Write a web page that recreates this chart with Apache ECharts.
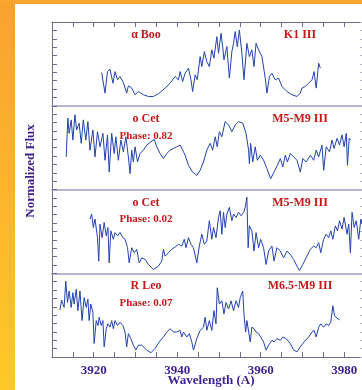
<!DOCTYPE html>
<html lang="en">
<head>
    <meta charset="UTF-8">
    <title>Stellar Spectra</title>
    <script src="https://cdn.jsdelivr.net/npm/echarts@6/dist/echarts.min.js"></script>
    <style>
        html, body {margin: 0; padding: 0; overflow: hidden; background: #fff;}
    </style>
</head>
<body>
<div id="chart" style="width: 362px; height: 390px;"></div>

<script>
    // wavelengths (A) and normalized flux (0-10 per panel)
    var booWave = [3921.9, 3922.7, 3923.3, 3923.9, 3924.6, 3925.1, 3925.7, 3926.3, 3927.1, 3927.9, 3928.3, 3929.1, 3929.9, 3930.7, 3931.9, 3933.1, 3934.3, 3935.5, 3937.1, 3938.3, 3939.5, 3940.3, 3940.7, 3941.3, 3941.9, 3942.7, 3943.3, 3943.7, 3944.3, 3944.8, 3945.5, 3945.9, 3946.5, 3947.1, 3947.7, 3948.3, 3948.8, 3949.5, 3949.9, 3950.5, 3950.9, 3951.2, 3951.9, 3952.5, 3953.1, 3953.5, 3953.9, 3954.4, 3954.9, 3955.5, 3956.0, 3956.7, 3957.3, 3957.9, 3958.4, 3958.9, 3959.5, 3960.3, 3961.1, 3961.5, 3962.1, 3962.7, 3963.5, 3964.3, 3965.1, 3966.3, 3967.5, 3968.7, 3969.5, 3969.9, 3970.7, 3971.5, 3972.3, 3972.8, 3973.3, 3973.9, 3974.3];
    var booFlux = [3.96, 1.51, 4.08, 4.37, 2.70, 4.08, 3.10, 3.49, 2.77, 1.51, 2.38, 2.11, 1.31, 1.70, 1.31, 1.11, 1.11, 1.43, 2.11, 2.70, 3.49, 3.10, 4.08, 2.89, 3.89, 4.49, 3.10, 1.70, 3.69, 3.10, 5.87, 4.68, 6.46, 5.27, 4.68, 6.67, 5.68, 8.25, 6.27, 8.65, 7.06, 5.48, 7.06, 3.30, 6.46, 7.46, 8.85, 7.06, 9.05, 6.27, 3.10, 7.46, 5.87, 6.67, 4.68, 7.46, 6.67, 5.87, 3.30, 1.51, 3.49, 3.89, 3.10, 3.30, 2.30, 1.70, 1.31, 1.11, 1.51, 2.11, 2.30, 2.70, 3.10, 4.08, 2.11, 5.08, 4.49];

    var cet82Wave = [3913.4, 3913.8, 3914.1, 3914.6, 3915.0, 3915.5, 3915.9, 3916.5, 3917.0, 3917.5, 3918.1, 3918.6, 3919.1, 3919.8, 3920.3, 3920.9, 3921.5, 3922.2, 3922.7, 3923.3, 3923.7, 3924.3, 3924.9, 3925.3, 3925.9, 3926.5, 3927.1, 3927.7, 3928.3, 3928.7, 3929.1, 3929.5, 3929.9, 3930.5, 3931.1, 3931.9, 3932.7, 3933.7, 3934.5, 3935.1, 3935.9, 3936.7, 3937.5, 3938.3, 3939.1, 3939.9, 3940.7, 3941.3, 3941.9, 3942.7, 3943.7, 3944.7, 3945.5, 3946.3, 3947.1, 3947.9, 3948.5, 3949.1, 3949.6, 3950.1, 3950.7, 3951.5, 3952.3, 3953.1, 3953.9, 3954.7, 3955.7, 3956.5, 3957.1, 3957.3, 3957.6, 3958.1, 3958.7, 3959.2, 3959.9, 3960.7, 3961.5, 3962.4, 3963.2, 3964.0, 3964.7, 3965.3, 3965.9, 3966.4, 3967.1, 3967.9, 3968.7, 3969.5, 3970.1, 3970.9, 3971.9, 3972.7, 3973.3, 3973.9, 3974.7, 3975.1, 3975.7, 3976.5, 3977.1, 3977.6, 3978.3, 3978.9, 3979.5, 3980.0, 3980.5, 3980.8, 3981.2, 3981.6];
    var cet82Flux = [3.89, 8.52, 6.71, 8.31, 5.90, 8.92, 7.11, 7.92, 5.51, 8.31, 5.90, 8.11, 4.70, 7.11, 3.89, 6.90, 5.10, 6.71, 3.49, 6.51, 2.08, 6.71, 4.30, 6.30, 3.49, 5.90, 4.49, 6.30, 3.89, 1.89, 4.70, 3.29, 5.10, 3.29, 4.30, 4.70, 5.30, 5.70, 5.99, 5.10, 4.30, 3.70, 4.30, 4.70, 4.90, 5.10, 5.30, 4.70, 4.10, 2.89, 2.08, 1.69, 2.29, 3.29, 4.70, 5.51, 4.70, 6.30, 5.10, 6.90, 6.30, 8.11, 7.71, 6.90, 7.71, 8.11, 7.92, 6.71, 4.70, 3.10, 5.51, 3.29, 5.10, 3.49, 4.10, 3.49, 2.49, 1.29, 2.08, 2.89, 3.70, 2.69, 4.10, 3.29, 4.30, 3.89, 3.49, 2.08, 3.70, 3.29, 4.10, 3.49, 4.70, 3.89, 5.30, 2.29, 5.10, 4.49, 5.90, 4.90, 6.11, 5.30, 6.51, 5.10, 6.71, 2.89, 6.11, 5.90];

    var cet02Wave = [3919.1, 3919.5, 3919.9, 3920.3, 3920.9, 3921.2, 3921.5, 3922.0, 3922.5, 3923.0, 3923.4, 3923.7, 3924.1, 3924.7, 3925.1, 3925.7, 3926.3, 3927.0, 3927.5, 3928.1, 3928.5, 3929.1, 3929.7, 3930.3, 3930.9, 3931.5, 3932.3, 3933.1, 3934.3, 3935.5, 3936.3, 3936.7, 3937.1, 3937.9, 3938.7, 3939.5, 3940.3, 3941.1, 3941.7, 3942.1, 3942.7, 3943.3, 3943.9, 3944.7, 3945.3, 3945.9, 3946.5, 3947.1, 3947.7, 3948.3, 3948.7, 3949.3, 3949.9, 3950.3, 3950.7, 3951.1, 3951.5, 3951.9, 3952.5, 3953.1, 3953.5, 3954.1, 3954.7, 3955.3, 3955.9, 3956.3, 3956.7, 3957.0, 3957.3, 3957.9, 3958.4, 3958.9, 3959.5, 3960.0, 3960.7, 3961.3, 3961.9, 3962.7, 3963.2, 3963.9, 3964.7, 3965.5, 3966.3, 3967.1, 3967.9, 3968.7, 3969.3, 3970.1, 3971.1, 3971.9, 3972.7, 3973.3, 3973.9, 3974.4, 3975.1, 3975.7, 3976.3, 3976.8, 3977.3, 3977.9, 3978.4, 3978.9, 3979.5, 3980.0, 3980.7, 3981.1, 3981.5, 3981.9, 3982.4, 3982.9, 3983.5, 3984.0, 3984.3];
    var cet02Flux = [6.47, 7.07, 5.46, 6.47, 4.25, 1.45, 5.87, 4.25, 6.06, 4.46, 5.46, 1.24, 5.06, 4.06, 4.86, 4.46, 4.86, 4.25, 4.06, 3.05, 1.24, 3.05, 2.45, 2.86, 1.24, 1.84, 1.65, 1.05, 0.45, 0.84, 1.45, 2.86, 2.05, 2.45, 2.86, 3.13, 3.46, 3.25, 4.06, 3.05, 4.25, 3.46, 3.05, 1.24, 3.25, 4.66, 3.46, 3.86, 6.27, 4.06, 5.46, 4.25, 6.66, 7.47, 4.66, 7.27, 5.46, 7.07, 7.87, 6.27, 7.07, 6.66, 7.27, 6.87, 7.27, 7.87, 9.07, 3.05, 5.66, 5.06, 2.65, 4.86, 3.05, 4.06, 3.05, 1.05, 2.65, 3.25, 1.45, 3.05, 2.65, 1.84, 2.65, 2.25, 1.65, 0.84, 0.33, 1.05, 2.05, 2.86, 3.25, 3.05, 3.65, 2.45, 4.06, 4.66, 4.25, 5.06, 4.06, 5.66, 5.06, 6.27, 5.27, 6.66, 4.66, 5.87, 2.45, 7.27, 5.46, 6.27, 4.06, 6.47, 5.87];

    var leoWave = [3911.9, 3912.3, 3912.9, 3913.3, 3913.7, 3914.1, 3914.6, 3915.0, 3915.3, 3915.8, 3916.2, 3916.7, 3917.2, 3917.7, 3918.2, 3918.6, 3918.9, 3919.3, 3919.8, 3920.1, 3920.6, 3921.0, 3921.3, 3921.8, 3922.2, 3922.5, 3923.0, 3923.4, 3923.9, 3924.3, 3924.7, 3925.1, 3925.7, 3926.3, 3927.0, 3927.5, 3927.9, 3928.3, 3928.9, 3929.5, 3930.1, 3930.7, 3931.5, 3932.7, 3933.7, 3934.7, 3935.7, 3936.7, 3937.5, 3938.3, 3939.1, 3939.9, 3940.7, 3941.1, 3941.5, 3942.3, 3942.9, 3943.5, 3943.9, 3944.7, 3945.5, 3946.3, 3946.7, 3947.1, 3947.7, 3948.3, 3948.8, 3949.3, 3949.6, 3950.1, 3950.7, 3951.2, 3951.7, 3952.3, 3952.9, 3953.5, 3954.1, 3954.7, 3955.1, 3955.7, 3956.0, 3956.4, 3956.7, 3957.1, 3957.5, 3957.9, 3958.4, 3958.9, 3959.5, 3960.0, 3960.7, 3961.3, 3961.9, 3962.7, 3963.2, 3963.9, 3964.7, 3965.3, 3966.1, 3967.1, 3967.9, 3968.7, 3969.5, 3970.4, 3971.5, 3972.3, 3972.8, 3973.3, 3973.9, 3974.4, 3975.1, 3975.7, 3976.3, 3976.8, 3977.3, 3977.7, 3978.1, 3978.5, 3978.9];
    var leoFlux = [5.61, 6.79, 5.92, 9.06, 6.51, 7.88, 5.92, 7.68, 6.32, 8.08, 5.53, 7.88, 4.35, 7.09, 5.92, 6.91, 4.35, 6.32, 5.33, 1.61, 4.35, 3.76, 4.74, 3.76, 4.35, 1.21, 3.38, 3.96, 3.56, 4.35, 3.38, 4.35, 3.76, 4.15, 3.76, 2.98, 1.21, 2.79, 2.20, 1.41, 0.82, 1.41, 1.41, 0.82, 0.51, 1.02, 1.80, 2.39, 2.98, 3.38, 2.98, 2.98, 3.18, 2.39, 2.98, 2.39, 2.79, 1.80, 0.82, 2.20, 3.18, 3.56, 4.74, 3.18, 4.35, 3.18, 5.53, 3.96, 8.27, 6.32, 6.71, 5.14, 6.51, 5.73, 6.71, 5.53, 6.71, 5.92, 7.09, 7.88, 5.14, 2.98, 4.35, 4.15, 1.80, 3.56, 3.38, 2.98, 2.79, 2.39, 1.80, 0.82, 1.41, 2.00, 1.80, 2.20, 2.00, 2.39, 2.20, 1.61, 0.82, 0.62, 1.21, 1.80, 2.39, 2.98, 3.18, 2.39, 3.56, 3.96, 3.56, 3.96, 3.76, 4.15, 6.12, 4.94, 5.14, 4.55, 4.44];

    var starNames = ['α Boo', 'ο Cet', 'ο Cet', 'R Leo'];
    var phases = ['', 'Phase: 0.82', 'Phase: 0.02', 'Phase: 0.07'];
    var spectralTypes = ['K1 III', 'M5-M9 III', 'M5-M9 III', 'M6.5-M9 III'];
    var xTickLabels = [3920, 3940, 3960, 3980];

    var waves = [booWave, cet82Wave, cet02Wave, leoWave];
    var fluxes = [booFlux, cet82Flux, cet02Flux, leoFlux];

    var frameColor = '#76698f';
    var sepColor = '#a59cbc';
    var labelRed = '#c3191b';
    var axisInk = '#3d1f8e';
    var serif = '"Liberation Serif", "DejaVu Serif", serif';

    var panelTop = 22, panelH = 83.75;

    var grids = [], xAxes = [], yAxes = [], series = [], texts = [];

    for (var i = 0; i < 4; i++) {
        var gTop = panelTop + i * panelH;
        grids.push({left: 52, width: 313, top: gTop, height: panelH, outerBoundsMode: 'none', containLabel: false});

        var isLast = i === 3;
        xAxes.push({
            gridIndex: i, type: 'value', min: 3910, max: 3985, interval: 5,
            position: 'bottom',
            axisLine: {show: true, onZero: false, lineStyle: {color: isLast ? frameColor : sepColor, width: isLast ? 1 : 1.5}},
            axisTick: {show: isLast, inside: true, length: 5, lineStyle: {color: frameColor}},
            axisLabel: {
                show: isLast, margin: 7, color: axisInk, fontFamily: serif, fontWeight: 'bold', fontSize: 13,
                formatter: function (v) { return xTickLabels.indexOf(v) >= 0 ? String(v) : ''; }
            },
            splitLine: {show: false}
        });

        yAxes.push({
            gridIndex: i, type: 'value', min: 0, max: 10, interval: 1, position: 'left',
            axisLine: {show: true, onZero: false, lineStyle: {color: frameColor}},
            axisTick: {show: true, inside: true, length: 5, lineStyle: {color: frameColor}},
            axisLabel: {show: false}, splitLine: {show: false}
        });
        yAxes.push({
            gridIndex: i, type: 'value', min: 0, max: 10, interval: 1, position: 'right',
            axisLine: {show: true, onZero: false, lineStyle: {color: frameColor}},
            axisTick: {show: true, inside: true, length: 5, lineStyle: {color: '#b8b0cc'}},
            axisLabel: {show: false}, splitLine: {show: false}
        });

        var pts = waves[i].map(function (w, k) { return [w, fluxes[i][k]]; });
        series.push({
            type: 'line', xAxisIndex: i, yAxisIndex: i * 2, data: pts,
            showSymbol: false, silent: true, animation: false,
            lineStyle: {color: '#2342ad', width: 1}
        });

        texts.push({type: 'text', x: 146, y: gTop + 13, style: {text: starNames[i], fill: labelRed, font: 'bold 12px ' + serif, align: 'center', verticalAlign: 'middle'}});
        texts.push({type: 'text', x: 300, y: gTop + 13, style: {text: spectralTypes[i], fill: labelRed, font: 'bold 12px ' + serif, align: 'center', verticalAlign: 'middle'}});
        if (phases[i]) {
            texts.push({type: 'text', x: 146, y: gTop + 30, style: {text: phases[i], fill: labelRed, font: 'bold 11px ' + serif, align: 'center', verticalAlign: 'middle'}});
        }
    }

    // top axis of first panel
    xAxes.push({
        gridIndex: 0, type: 'value', min: 3910, max: 3985, interval: 5, position: 'top',
        axisLine: {show: true, onZero: false, lineStyle: {color: frameColor}},
        axisTick: {show: true, inside: true, length: 5, lineStyle: {color: frameColor}},
        axisLabel: {show: false}, splitLine: {show: false}
    });

    var graphics = [
        {type: 'rect', shape: {x: 0, y: 0, width: 15, height: 390}, silent: true,
            style: {fill: {type: 'linear', x: 0, y: 0, x2: 0, y2: 1, colorStops: [
                {offset: 0, color: '#f9a22f'}, {offset: 1, color: '#ffc927'}]}}},
        {type: 'rect', shape: {x: 0, y: 0, width: 362, height: 4}, silent: true, style: {fill: '#f9a530'}},
        {type: 'text', x: 31, y: 171, rotation: Math.PI / 2,
            style: {text: 'Normalized Flux', fill: axisInk, font: 'bold 13px ' + serif, align: 'center', verticalAlign: 'middle'}},
        {type: 'text', x: 211, y: 381,
            style: {text: 'Wavelength (A)', fill: axisInk, font: 'bold 13px ' + serif, align: 'center', verticalAlign: 'middle'}}
    ].concat(texts);

    var option = {
        backgroundColor: '#ffffff',
        animation: false,
        grid: grids,
        xAxis: xAxes,
        yAxis: yAxes,
        series: series,
        graphic: graphics
    };

    var chart = echarts.init(document.getElementById('chart'));
    chart.setOption(option);
</script>
</body>
</html>
